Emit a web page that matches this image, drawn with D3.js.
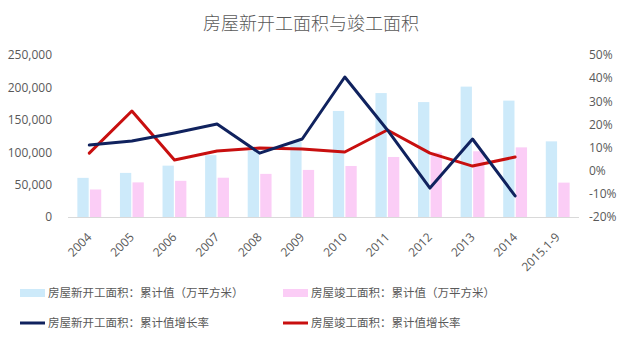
<!DOCTYPE html>
<html>
<head>
<meta charset="utf-8">
<script src="https://cdn.jsdelivr.net/npm/d3@7/dist/d3.min.js"></script>
<style>
  html, body { margin: 0; padding: 0; background: #fff; }
  svg { display: block; }
</style>
</head>
<body>
<div id="chart"></div>
<script>
// Categories (years)
const categories = ["2004", "2005", "2006", "2007", "2008", "2009", "2010", "2011", "2012", "2013", "2014", "2015.1-9"];

// Cumulative floor area, 10k m²
const newStarts = [60414, 68064, 79253, 95402, 102553, 116422, 163647, 191237, 177334, 201208, 179592, 116722];
const completed = [42465, 53417, 55831, 60607, 66545, 72677, 78744, 92620, 99425, 101435, 107459, 53066];

// Year-on-year growth of the cumulative values (no value for the partial year)
const newStartsGrowth = [0.111, 0.128, 0.163, 0.202, 0.076, 0.137, 0.405, 0.176, -0.075, 0.137, -0.109, null];
const completedGrowth = [0.076, 0.258, 0.046, 0.085, 0.098, 0.094, 0.081, 0.176, 0.076, 0.020, 0.059, null];

// Axis ticks
const leftTicks = [0, 50000, 100000, 150000, 200000, 250000];
const rightTicks = [-0.2, -0.1, 0, 0.1, 0.2, 0.3, 0.4, 0.5];

// Legend labels
const legendLabels = [
  "房屋新开工面积：累计值（万平方米）",
  "房屋竣工面积：累计值（万平方米）",
  "房屋新开工面积：累计值增长率",
  "房屋竣工面积：累计值增长率"
];

const W = 624, H = 340;
const colors = {
  newBar: "#cdeafa",
  doneBar: "#fbcdf6",
  newLine: "#10225e",
  doneLine: "#c80f0f",
  text: "#595959",
  axis: "#d9d9d9"
};
const tickFont = "'Open Sans', 'Liberation Sans', sans-serif";
const cjkFont = "'Noto Sans CJK SC', sans-serif";

const svg = d3.select("#chart").append("svg")
  .attr("width", W).attr("height", H);

const plot = { left: 68, right: 579, top: 55, bottom: 217 };

const x0 = d3.scaleBand().domain(categories)
  .range([plot.left, plot.right]).paddingInner(0.44).paddingOuter(0.22);
const x1 = d3.scaleBand().domain(["new", "done"])
  .range([0, x0.bandwidth()]).paddingInner(0.1);
const yL = d3.scaleLinear().domain([0, 250000]).range([plot.bottom, plot.top]);
const yR = d3.scaleLinear().domain([-0.2, 0.5]).range([plot.bottom, plot.top]);

const locale = d3.formatLocale({ decimal: ".", thousands: ",", grouping: [3], currency: ["", ""], minus: "-" });
const fmtL = locale.format(",");
const fmtR = locale.format(".0%");

// Title
svg.append("text")
  .attr("x", 311).attr("y", 30)
  .attr("text-anchor", "middle")
  .attr("font-family", cjkFont)
  .attr("font-size", 18)
  .attr("font-weight", 300)
  .attr("fill", colors.text)
  .text("房屋新开工面积与竣工面积");

// Bars
const groups = svg.append("g").selectAll("g")
  .data(categories.map((c, i) => ({ c, n: newStarts[i], d: completed[i] })))
  .join("g")
  .attr("transform", d => `translate(${x0(d.c)},0)`);

groups.append("rect")
  .attr("x", x1("new")).attr("width", x1.bandwidth())
  .attr("y", d => yL(d.n)).attr("height", d => yL(0) - yL(d.n))
  .attr("fill", colors.newBar);
groups.append("rect")
  .attr("x", x1("done")).attr("width", x1.bandwidth())
  .attr("y", d => yL(d.d)).attr("height", d => yL(0) - yL(d.d))
  .attr("fill", colors.doneBar);

// Category axis line
svg.append("line")
  .attr("x1", plot.left).attr("x2", plot.right)
  .attr("y1", plot.bottom + 0.5).attr("y2", plot.bottom + 0.5)
  .attr("stroke", colors.axis).attr("stroke-width", 1);

// Left value axis
const axL = svg.append("g")
  .attr("transform", `translate(${plot.left - 16},0)`)
  .call(d3.axisLeft(yL).tickValues(leftTicks).tickFormat(fmtL).tickSize(0).tickPadding(0));
axL.select(".domain").remove();
axL.selectAll("text")
  .attr("font-family", tickFont).attr("font-size", 12).attr("fill", colors.text);

// Right value axis
const axR = svg.append("g")
  .attr("transform", `translate(${plot.right + 10},0)`)
  .call(d3.axisRight(yR).tickValues(rightTicks).tickFormat(fmtR).tickSize(0).tickPadding(0));
axR.select(".domain").remove();
axR.selectAll("text")
  .attr("font-family", tickFont).attr("font-size", 12).attr("fill", colors.text);

// Rotated category labels
svg.append("g").selectAll("text")
  .data(categories)
  .join("text")
  .attr("transform", c => `translate(${x0(c) + x0.bandwidth() / 2 + 3},238) rotate(-45)`)
  .attr("text-anchor", "end")
  .attr("font-family", tickFont).attr("font-size", 12).attr("fill", colors.text)
  .text(c => c);

// Growth lines
const cx = c => x0(c) + x0.bandwidth() / 2;
const line = d3.line()
  .defined(d => d.v !== null)
  .x(d => cx(d.c)).y(d => yR(d.v));

svg.append("path")
  .datum(categories.map((c, i) => ({ c, v: completedGrowth[i] })))
  .attr("d", line)
  .attr("fill", "none").attr("stroke", colors.doneLine)
  .attr("stroke-width", 3).attr("stroke-linejoin", "round").attr("stroke-linecap", "round");

svg.append("path")
  .datum(categories.map((c, i) => ({ c, v: newStartsGrowth[i] })))
  .attr("d", line)
  .attr("fill", "none").attr("stroke", colors.newLine)
  .attr("stroke-width", 3).attr("stroke-linejoin", "round").attr("stroke-linecap", "round");

// Legend
const legendItems = [
  { label: legendLabels[0], type: "rect", color: colors.newBar, x: 20, y: 293 },
  { label: legendLabels[1], type: "rect", color: colors.doneBar, x: 283, y: 293 },
  { label: legendLabels[2], type: "line", color: colors.newLine, x: 20, y: 323 },
  { label: legendLabels[3], type: "line", color: colors.doneLine, x: 283, y: 323 }
];
const lg = svg.append("g").selectAll("g").data(legendItems).join("g")
  .attr("transform", d => `translate(${d.x},${d.y})`);
lg.filter(d => d.type === "rect").append("rect")
  .attr("x", 0).attr("y", -4).attr("width", 25).attr("height", 8)
  .attr("fill", d => d.color);
lg.filter(d => d.type === "line").append("line")
  .attr("x1", 0).attr("x2", 25).attr("y1", 0).attr("y2", 0)
  .attr("stroke", d => d.color).attr("stroke-width", 3);
lg.append("text")
  .attr("x", 28).attr("y", 0).attr("dy", "0.35em")
  .attr("font-family", cjkFont).attr("font-size", 11.5).attr("fill", colors.text)
  .text(d => d.label);
</script>
</body>
</html>
